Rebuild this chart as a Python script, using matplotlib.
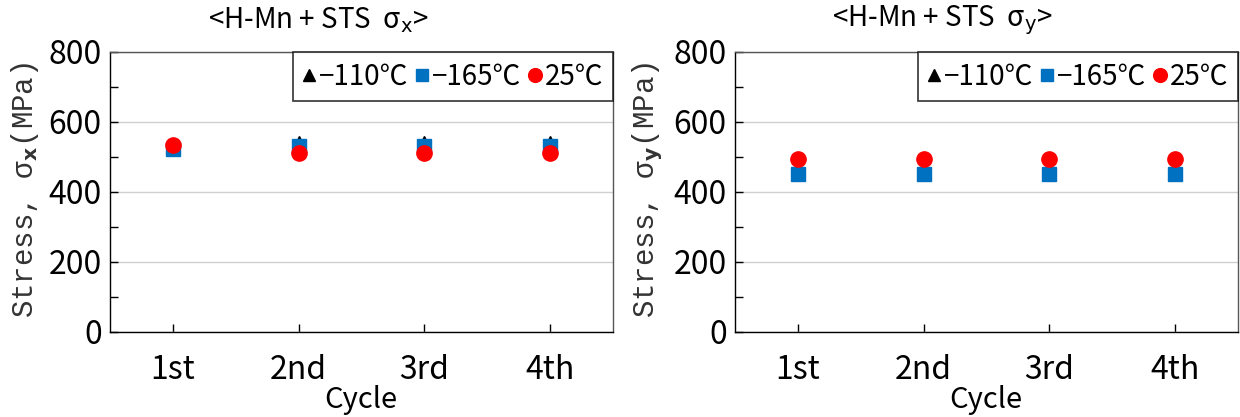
import matplotlib
matplotlib.use("Agg")
import matplotlib.pyplot as plt
from matplotlib.ticker import MultipleLocator

# cycle categories and measured stress (MPa) per test temperature
cycles = ["1st", "2nd", "3rd", "4th"]
temps = ["\u2212110\u2103", "\u2212165\u2103", "25\u2103"]

sx_m110 = [530, 540, 540, 540]
sx_m165 = [522, 531, 531, 531]
sx_25 = [534, 511, 511, 511]

sy_m110 = [455, 455, 455, 455]
sy_m165 = [452, 452, 452, 452]
sy_25 = [493, 493, 493, 493]

plt.rcParams["font.family"] = ["Noto Sans CJK KR", "DejaVu Sans"]
plt.rcParams["mathtext.fontset"] = "dejavusans"

styles = [
    dict(marker="^", color="black", markersize=10),
    dict(marker="s", color="#0070C0", markersize=9.5),
    dict(marker="o", color="#FF0000", markersize=11),
]

fig = plt.figure(figsize=(12.4, 4.17), dpi=100)

panels = [
    (110, [sx_m110, sx_m165, sx_25], "x", 318, 25),
    (735, [sy_m110, sy_m165, sy_25], "y", 942, 648),
]

W, H = 1240, 417
for left, series, comp, title_x, ylab_x in panels:
    ax = fig.add_axes([left / W, (H - 332) / H, 503 / W, 280 / H])
    pos = list(range(1, len(cycles) + 1))
    handles = []
    for vals, st, lab in zip(series, styles, temps):
        h, = ax.plot(pos, vals, linestyle="none", label=lab, **st)
        handles.append(h)

    ax.set_xlim(0.5, 4.5)
    ax.set_ylim(0, 800)
    ax.set_xticks(pos)
    ax.set_xticklabels(cycles)
    ax.yaxis.set_major_locator(MultipleLocator(200))
    ax.yaxis.set_minor_locator(MultipleLocator(100))
    ax.grid(axis="y", which="major", color="#d0d0d0", linewidth=1.0)
    ax.set_axisbelow(True)
    ax.tick_params(axis="both", which="both", direction="in", length=6,
                   width=1, labelsize=23, pad=6)
    ax.tick_params(axis="x", pad=16)
    for sp in ax.spines.values():
        sp.set_linewidth(1.0)
        sp.set_color("black")
    ax.spines["top"].set_color("#555555")
    ax.spines["right"].set_color("#555555")

    # axis titles placed directly on the figure
    fig.text((left + 251) / W, (H - 400) / H, "Cycle",
             ha="center", va="center", fontsize=21)
    fig.text(ylab_x / W, (H - 190) / H,
             r"Stress, σ$_{\mathbf{%s}}$(MPa)" % comp,
             rotation=90, ha="center", va="center", fontsize=21,
             family=["Liberation Mono", "DejaVu Sans Mono"], color="#333333")
    fig.text(title_x / W, (H - 20) / H,
             r"<H-Mn + STS  σ$_{\mathrm{%s}}$>" % comp,
             ha="center", va="center", fontsize=20)

    leg = ax.legend(handles=handles, loc="upper right", ncol=3,
                    fontsize=20, frameon=True, fancybox=False,
                    borderaxespad=0, handlelength=0.5, handletextpad=0.1,
                    columnspacing=0.25, borderpad=0.35, markerscale=0.9)
    leg.get_frame().set_edgecolor("black")
    leg.get_frame().set_linewidth(1.2)

fig.savefig("out.png", dpi=100)
